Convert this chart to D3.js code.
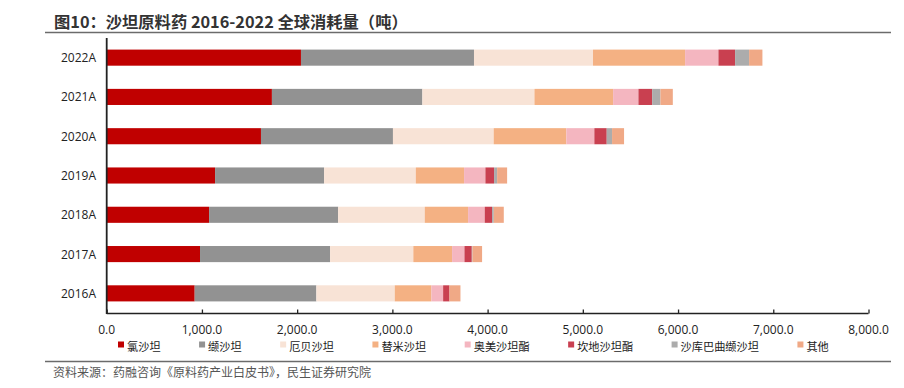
<!DOCTYPE html>
<html>
<head>
<meta charset="utf-8">
<script src="https://cdn.jsdelivr.net/npm/d3@7"></script>
<style>
  body { margin: 0; background: #fff; }
  svg { display: block; font-family: "Noto Sans CJK SC", "Noto Sans", sans-serif; }
</style>
</head>
<body>
<svg id="chart" width="904" height="388"></svg>
<script>
// categories (top to bottom as drawn)
const years = ["2022A", "2021A", "2020A", "2019A", "2018A", "2017A", "2016A"];
const drugs = ["氯沙坦", "缬沙坦", "厄贝沙坦", "替米沙坦", "奥美沙坦酯", "坎地沙坦酯", "沙库巴曲缬沙坦", "其他"];
// consumption in tonnes, one array per drug, same order as years
const losartan    = [2040, 1735, 1620, 1138, 1075, 980, 924];
const valsartan   = [1817, 1580, 1386, 1145, 1355, 1366, 1278];
const irbesartan  = [1250, 1177, 1058, 963, 910, 874, 823];
const telmisartan = [967, 826, 763, 507, 455, 407, 385];
const olmesartan  = [350, 266, 294, 224, 175, 130, 123];
const candesartan = [175, 144, 130, 91, 77, 77, 67];
const sacubitril  = [147, 87, 56, 32, 18, 7, 0];
const others      = [140, 130, 126, 105, 105, 101, 115];
const xTicks = [0, 1000, 2000, 3000, 4000, 5000, 6000, 7000, 8000];

const colors = ["#C00000", "#929292", "#F8E3D6", "#F4B183", "#F4B6C0", "#C94050", "#ACACAC", "#F0A986"];
const series = [losartan, valsartan, irbesartan, telmisartan, olmesartan, candesartan, sacubitril, others];

const svg = d3.select("#chart");

// title + rules
svg.append("text")
    .attr("x", 54).attr("y", 28)
    .attr("font-size", 16.3).attr("font-weight", "bold").attr("fill", "#333")
    .text("图10：沙坦原料药 2016-2022 全球消耗量（吨）");
svg.append("line").attr("x1", 45).attr("x2", 891).attr("y1", 32.5).attr("y2", 32.5)
    .attr("stroke", "#6b6b6b").attr("stroke-width", 1.6);
svg.append("line").attr("x1", 45).attr("x2", 891).attr("y1", 361.5).attr("y2", 361.5)
    .attr("stroke", "#6b6b6b").attr("stroke-width", 1.6);
svg.append("text")
    .attr("x", 53).attr("y", 376.5)
    .attr("font-size", 12).attr("fill", "#555")
    .text("资料来源：药融咨询《原料药产业白皮书》，民生证券研究院");

const x = d3.scaleLinear().domain([0, 8000]).range([106.7, 868.5]);
const y = d3.scaleBand().domain(years).range([38, 313]).paddingInner(0.59).paddingOuter(0.295);

// stack
const rows = years.map((yr, i) => {
    const r = { year: yr };
    drugs.forEach((d, j) => { r[d] = series[j][i]; });
    return r;
});
const stacked = d3.stack().keys(drugs)(rows);

svg.append("g").selectAll("g")
    .data(stacked)
    .join("g")
    .attr("fill", (d, i) => colors[i])
    .selectAll("rect")
    .data(d => d)
    .join("rect")
    .attr("x", d => x(d[0]))
    .attr("width", d => Math.max(0, x(d[1]) - x(d[0])))
    .attr("y", d => y(d.data.year))
    .attr("height", y.bandwidth());

// x axis: ticks point up into the plot
const xAxis = svg.append("g")
    .attr("transform", "translate(0,313.5)")
    .call(d3.axisTop(x).tickValues(xTicks).tickSize(4).tickFormat(() => ""));
xAxis.select(".domain").attr("stroke", "#222").attr("stroke-width", 1.5)
    .attr("d", `M${x(0)},0H${x(8000)}`);
xAxis.selectAll(".tick line").attr("stroke", "#222").attr("stroke-width", 1.3);

svg.append("g").selectAll("text")
    .data(xTicks)
    .join("text")
    .attr("x", d => x(d)).attr("y", 334)
    .attr("text-anchor", "middle")
    .attr("font-size", 12).attr("fill", "#222")
    .attr("font-family", "'Open Sans', 'Noto Sans', sans-serif")
    .text(d => d3.format(",.1f")(d));

// y axis
svg.append("line")
    .attr("x1", x(0)).attr("x2", x(0)).attr("y1", 38).attr("y2", 314)
    .attr("stroke", "#222").attr("stroke-width", 1.8);
svg.append("g").selectAll("text")
    .data(years)
    .join("text")
    .attr("x", 96).attr("y", d => y(d) + y.bandwidth() / 2 + 4.5)
    .attr("text-anchor", "end")
    .attr("font-size", 12).attr("fill", "#222")
    .attr("font-family", "'Open Sans', 'Noto Sans', sans-serif")
    .text(d => d);

// legend, laid out by text width
const legend = svg.append("g");
let lx = 118;
drugs.forEach((d, i) => {
    legend.append("rect")
        .attr("x", lx).attr("y", 341.5).attr("width", 6).attr("height", 6)
        .attr("fill", colors[i]);
    const t = legend.append("text")
        .attr("x", lx + 9).attr("y", 351)
        .attr("font-size", 11.2).attr("fill", "#222")
        .text(d);
    lx += 9 + t.node().getComputedTextLength() + 38.5;
});
</script>
</body>
</html>
